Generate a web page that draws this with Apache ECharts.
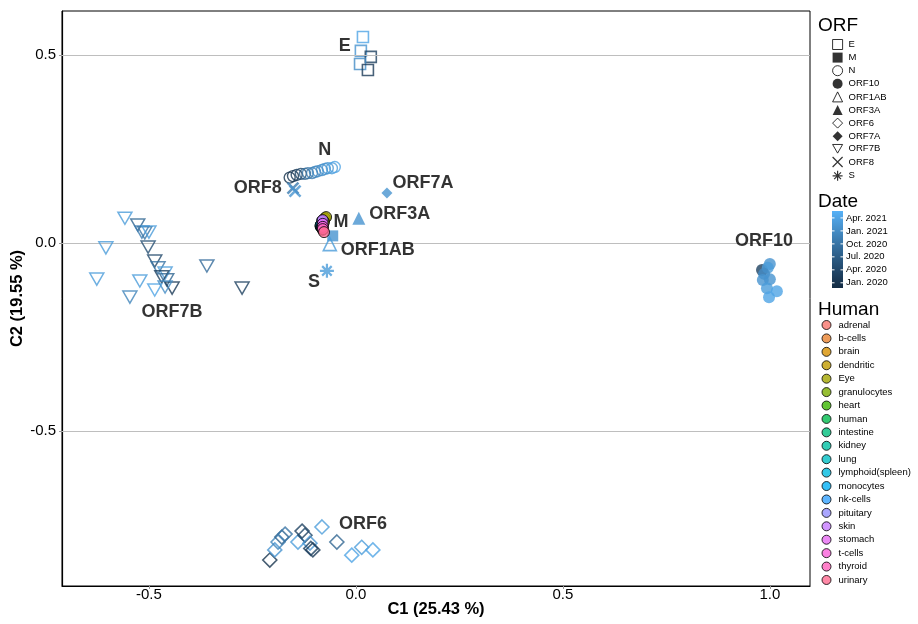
<!DOCTYPE html>
<html><head><meta charset="utf-8">
<script src="https://cdn.jsdelivr.net/npm/echarts@6/dist/echarts.min.js"></script>
<style>html,body{margin:0;padding:0;background:#fff}#c{width:918px;height:624px}</style>
</head><body><div id="c"></div>
<script>
// ---------- data ----------
const xTicks = [-0.5, 0.0, 0.5, 1.0];
const yTicks = [-0.5, 0.0, 0.5];
const dateLabels = ['Jan. 2020', 'Apr. 2020', 'Jul. 2020', 'Oct. 2020', 'Jan. 2021', 'Apr. 2021'];
const dateTickMonths = [0, 3, 6, 9, 12, 15];   // months since Jan. 2020
const dateRange = [-1.2, 16.6];                 // colour scale limits (months)

// [C1, C2, month]
const orfE = [[0.017, 0.548, 15], [0.012, 0.511, 13], [0.036, 0.495, 2], [0.010, 0.476, 12], [0.029, 0.460, 1]];
const orfM = [[-0.056, 0.019, 13]];
const orfN = [[-0.160, 0.174, 0], [-0.152, 0.178, 0], [-0.143, 0.181, 1], [-0.133, 0.184, 3], [-0.123, 0.184, 6],
  [-0.116, 0.186, 9], [-0.106, 0.186, 10], [-0.099, 0.189, 11], [-0.092, 0.191, 12], [-0.082, 0.194, 12],
  [-0.075, 0.197, 13], [-0.068, 0.199, 13], [-0.058, 0.199, 14], [-0.051, 0.202, 15]];
const orf10 = [[0.981, -0.072, 2], [1.000, -0.056, 13], [0.995, -0.066, 14], [0.986, -0.082, 12], [0.983, -0.098, 13],
  [1.000, -0.096, 13], [0.993, -0.120, 14], [1.017, -0.128, 15], [0.998, -0.144, 15]];
const orf1AB = [[-0.063, -0.003, 14]];
const orf3A = [[0.007, 0.066, 13]];
const orf6 = [[-0.208, -0.843, 0], [-0.196, -0.816, 13], [-0.188, -0.795, 11], [-0.179, -0.782, 7], [-0.171, -0.774, 9],
  [-0.140, -0.795, 14], [-0.130, -0.766, 2], [-0.123, -0.777, 3], [-0.111, -0.798, 13], [-0.104, -0.816, 1],
  [-0.109, -0.812, 2], [-0.082, -0.755, 14], [-0.046, -0.795, 7], [-0.010, -0.830, 15], [0.014, -0.809, 14], [0.041, -0.816, 15]];
const orf7A = [[0.075, 0.133, 13]];
const orf7B = [[-0.558, 0.066, 14], [-0.527, 0.048, 7], [-0.517, 0.029, 10], [-0.510, 0.027, 9], [-0.500, 0.029, 14],
  [-0.604, -0.013, 14], [-0.502, -0.011, 4], [-0.486, -0.048, 3], [-0.360, -0.061, 8], [-0.478, -0.066, 9],
  [-0.461, -0.080, 14], [-0.469, -0.090, 2], [-0.457, -0.098, 7], [-0.626, -0.096, 14], [-0.522, -0.101, 14],
  [-0.444, -0.120, 1], [-0.486, -0.125, 15], [-0.546, -0.144, 11], [-0.275, -0.120, 2], [-0.461, -0.117, 12]];
const orf8 = [[-0.152, 0.146, 10], [-0.147, 0.138, 13]];
const orfS = [[-0.070, -0.074, 14]];

const humanNames = ['adrenal', 'b-cells', 'brain', 'dendritic', 'Eye', 'granulocytes', 'heart', 'human', 'intestine', 'kidney',
  'lung', 'lymphoid(spleen)', 'monocytes', 'nk-cells', 'pituitary', 'skin', 'stomach', 't-cells', 'thyroid', 'urinary'];
const humanColors = ['#F8766D', '#EA8331', '#D89000', '#C09B00', '#A3A500', '#7CAE00', '#39B600', '#00BB4E', '#00BF7D', '#00C1A3',
  '#00BFC4', '#00BAE0', '#00B0F6', '#35A2FF', '#9590FF', '#C77CFF', '#E76BF3', '#FA62DB', '#FF62BC', '#FF6C91'];
const humanC1 = [-0.080, -0.082, -0.080, -0.075, -0.072, -0.077, -0.082, -0.085, -0.085, -0.085,
  -0.085, -0.085, -0.082, -0.082, -0.082, -0.080, -0.080, -0.080, -0.080, -0.077];
const humanC2 = [0.035, 0.040, 0.045, 0.066, 0.069, 0.056, 0.048, 0.043, 0.045, 0.048,
  0.045, 0.048, 0.045, 0.043, 0.059, 0.061, 0.051, 0.043, 0.037, 0.029];

const labelNames = ['E', 'N', 'ORF8', 'ORF7A', 'ORF3A', 'M', 'ORF1AB', 'S', 'ORF7B', 'ORF6', 'ORF10'];
const labelC1 = [-0.027, -0.075, -0.237, 0.162, 0.106, -0.036, 0.053, -0.101, -0.444, 0.017, 0.986];
const labelC2 = [0.524, 0.247, 0.146, 0.160, 0.077, 0.056, -0.019, -0.104, -0.184, -0.747, 0.005];

// ---------- styling ----------
const LOW = '#132B43', HIGH = '#56B1F7';
const FONT = 'Liberation Sans, Arial, sans-serif';

// Lab interpolation (like ggplot's gradient)
function toLab(hex) {
  const c = echarts.color.parse(hex);
  let [r, g, b] = c.slice(0, 3).map(v => { v /= 255; return v <= 0.04045 ? v / 12.92 : Math.pow((v + 0.055) / 1.055, 2.4); });
  let x = (0.4124 * r + 0.3576 * g + 0.1805 * b) / 0.95047;
  let y = (0.2126 * r + 0.7152 * g + 0.0722 * b);
  let z = (0.0193 * r + 0.1192 * g + 0.9505 * b) / 1.08883;
  const f = t => t > 0.008856 ? Math.cbrt(t) : 7.787 * t + 16 / 116;
  const fx = f(x), fy = f(y), fz = f(z);
  return [116 * fy - 16, 500 * (fx - fy), 200 * (fy - fz)];
}
function fromLab(lab) {
  const fy = (lab[0] + 16) / 116, fx = fy + lab[1] / 500, fz = fy - lab[2] / 200;
  const fi = t => t > 0.206893 ? t * t * t : (t - 16 / 116) / 7.787;
  const x = fi(fx) * 0.95047, y = fi(fy), z = fi(fz) * 1.08883;
  let r = 3.2406 * x - 1.5372 * y - 0.4986 * z;
  let g = -0.9689 * x + 1.8758 * y + 0.0415 * z;
  let b = 0.0557 * x - 0.2040 * y + 1.0570 * z;
  const gm = v => { v = v <= 0.0031308 ? 12.92 * v : 1.055 * Math.pow(v, 1 / 2.4) - 0.055; return Math.round(Math.max(0, Math.min(1, v)) * 255); };
  return echarts.color.stringify([gm(r), gm(g), gm(b), 1], 'rgba');
}
const labLow = toLab(LOW), labHigh = toLab(HIGH);
function gradColor(t) {
  t = Math.max(0, Math.min(1, t));
  return fromLab([0, 1, 2].map(i => labLow[i] + (labHigh[i] - labLow[i]) * t));
}
function dateColor(m) { return gradColor((m - dateRange[0]) / (dateRange[1] - dateRange[0])); }

const downTri = 'path://M0,0L10,0L5,8.66Z';
const xPath = 'path://M0,0L10,10M10,0L0,10';
const starPath = 'path://M5,0L5,10M0,5L10,5M1.6,1.6L8.4,8.4M8.4,1.6L1.6,8.4';

const orfSpec = [
  {name: 'E', data: orfE, symbol: 'rect', hollow: true, size: 11, bw: 1.6},
  {name: 'M', data: orfM, symbol: 'rect', hollow: false, size: 11},
  {name: 'N', data: orfN, symbol: 'circle', hollow: true, size: 11, bw: 1.4},
  {name: 'ORF10', data: orf10, symbol: 'circle', hollow: false, size: 12},
  {name: 'ORF1AB', data: orf1AB, symbol: 'triangle', hollow: true, size: 13, bw: 1.6},
  {name: 'ORF3A', data: orf3A, symbol: 'triangle', hollow: false, size: 13},
  {name: 'ORF6', data: orf6, symbol: 'diamond', hollow: true, size: 14, bw: 1.6},
  {name: 'ORF7A', data: orf7A, symbol: 'diamond', hollow: false, size: 11},
  {name: 'ORF7B', data: orf7B, symbol: downTri, hollow: true, size: 14, bw: 1.5},
  {name: 'ORF8', data: orf8, symbol: xPath, hollow: true, size: 11, bw: 2.6},
  {name: 'S', data: orfS, symbol: starPath, hollow: true, size: 14, bw: 2.2}
];

const series = [];
series.push({
  type: 'scatter', name: '_grid', data: [], z: 1, silent: true,
  markLine: {
    silent: true, symbol: 'none', label: {show: false},
    lineStyle: {color: '#BEBEBE', width: 1, type: 'solid'},
    data: yTicks.map(v => ({yAxis: v}))
  }
});
orfSpec.forEach((s, i) => {
  series.push({
    type: 'scatter', name: s.name, symbol: s.symbol, symbolSize: s.size, z: 3 + i, silent: true,
    symbolKeepAspect: true,
    data: s.data.map(d => {
      const c = dateColor(d[2]);
      return {
        value: [d[0], d[1]],
        itemStyle: s.hollow ? {color: 'rgba(0,0,0,0)', borderColor: c, borderWidth: s.bw}
                            : {color: c, borderWidth: 0}
      };
    })
  });
});
humanNames.forEach((h, i) => {
  series.push({
    type: 'scatter', name: h, symbol: 'circle', symbolSize: 11, z: 20 + i, silent: true,
    itemStyle: {color: humanColors[i], borderColor: '#000', borderWidth: 1},
    data: [[humanC1[i], humanC2[i]]]
  });
});
series.push({
  type: 'scatter', name: '_labels', symbolSize: 0, z: 50, silent: true,
  data: labelNames.map((n, i) => ({name: n, value: [labelC1[i], labelC2[i]]})),
  label: {show: true, position: 'inside', formatter: '{b}', color: '#000', fontSize: 18, fontWeight: 'bold', fontFamily: FONT}
});

const orfLegendData = orfSpec.map(s => {
  const st = s.hollow ? {color: 'rgba(0,0,0,0)', borderColor: '#000', borderWidth: 1} : {color: '#000', borderWidth: 0};
  if (s.name === 'ORF8' || s.name === 'S') st.borderWidth = 1.2;
  return {name: s.name, icon: s.symbol, itemStyle: st};
});
const humanLegendData = humanNames.map((h, i) => ({
  name: h, icon: 'circle', itemStyle: {color: humanColors[i], borderColor: '#000', borderWidth: 1}
}));

// date colourbar
const barTop = 211, barBottom = 288, barX = 832, barW = 11;
function barY(m) { return barBottom - (m - dateRange[0]) / (dateRange[1] - dateRange[0]) * (barBottom - barTop); }
const stops = [];
for (let k = 0; k <= 10; k++) stops.push({offset: k / 10, color: gradColor(1 - k / 10)});
const graphics = [
  {type: 'text', left: 818, top: 16, style: {text: 'ORF', fontSize: 19, fontFamily: FONT, fill: '#000'}},
  {type: 'text', left: 818, top: 192, style: {text: 'Date', fontSize: 19, fontFamily: FONT, fill: '#000'}},
  {type: 'text', left: 818, top: 300, style: {text: 'Human', fontSize: 19, fontFamily: FONT, fill: '#000'}},
  {type: 'rect', shape: {x: barX, y: barTop, width: barW, height: barBottom - barTop},
    style: {fill: {type: 'linear', x: 0, y: 0, x2: 0, y2: 1, colorStops: stops}}}
];
dateTickMonths.forEach((m, i) => {
  const y = barY(m);
  graphics.push({type: 'line', shape: {x1: barX, y1: y, x2: barX + 2.5, y2: y}, style: {stroke: '#fff', lineWidth: 1}});
  graphics.push({type: 'line', shape: {x1: barX + barW - 2.5, y1: y, x2: barX + barW, y2: y}, style: {stroke: '#fff', lineWidth: 1}});
  graphics.push({type: 'text', x: barX + barW + 3, y: y, style: {text: dateLabels[i], fontSize: 9.5, fontFamily: FONT, fill: '#000', verticalAlign: 'middle'}});
});

const chart = echarts.init(document.getElementById('c'), null, {renderer: 'canvas'});
chart.setOption({
  animation: false,
  backgroundColor: '#fff',
  grid: {left: 62, right: 108, top: 11, bottom: 38, show: true, borderColor: '#000', borderWidth: 1,
         containLabel: false, outerBoundsMode: 'none'},
  xAxis: {
    type: 'value', min: -0.71, max: 1.097,
    name: 'C1 (25.43 %)', nameLocation: 'middle', nameGap: 15, nameMoveOverlap: false,
    nameTextStyle: {fontSize: 16.5, fontWeight: 'bold', fontFamily: FONT, color: '#000'},
    axisLine: {show: true, onZero: false, lineStyle: {color: '#000', width: 1.2}},
    axisTick: {show: true, length: 3, customValues: xTicks, lineStyle: {color: '#999'}},
    axisLabel: {customValues: xTicks, formatter: v => v.toFixed(1), fontSize: 15, fontFamily: FONT, color: '#000', margin: 1},
    splitLine: {show: false}
  },
  yAxis: {
    type: 'value', min: -0.912, max: 0.617,
    name: 'C2 (19.55 %)', nameLocation: 'middle', nameGap: 36, nameRotate: 90, nameMoveOverlap: false,
    nameTextStyle: {fontSize: 16.5, fontWeight: 'bold', fontFamily: FONT, color: '#000'},
    axisLine: {show: true, onZero: false, lineStyle: {color: '#000', width: 1.2}},
    axisTick: {show: true, length: 3, customValues: yTicks, lineStyle: {color: '#999'}},
    axisLabel: {customValues: yTicks, formatter: v => v.toFixed(1), fontSize: 15, fontFamily: FONT, color: '#000', margin: 6},
    splitLine: {show: false}
  },
  legend: [
    {orient: 'vertical', left: 832, top: 39, padding: 0, itemWidth: 10, itemHeight: 10, itemGap: 2.6,
     selectedMode: false, data: orfLegendData, symbolKeepAspect: true,
     textStyle: {fontSize: 9.5, lineHeight: 10, fontFamily: FONT, color: '#000', padding: [0, 0, 0, 1]}},
    {orient: 'vertical', left: 821.5, top: 320, padding: 0, itemWidth: 10, itemHeight: 9, itemGap: 3.42,
     selectedMode: false, data: humanLegendData,
     textStyle: {fontSize: 9.5, lineHeight: 10, fontFamily: FONT, color: '#000', padding: [0, 0, 0, 2]}}
  ],
  graphic: graphics,
  series: series
});
</script>
</body></html>
